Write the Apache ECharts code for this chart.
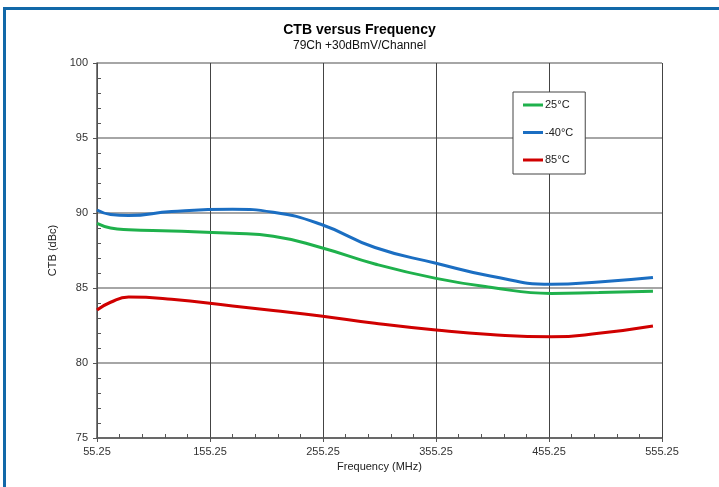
<!DOCTYPE html>
<html>
<head>
<meta charset="utf-8">
<script src="https://cdn.jsdelivr.net/npm/echarts@6/dist/echarts.min.js"></script>
<style>
  html, body { margin: 0; padding: 0; background: #fff; }
  #main { width: 719px; height: 487px; }
</style>
</head>
<body>
<div id="main"></div>
<script>
// frequencies (MHz) where the curves were read
const freqs = [55.25, 67.25, 83.25, 121.25, 175.25, 211.25, 253.25, 301.25, 355.25, 403.25, 457.25, 499.25, 547.25]
// CTB values (dBc)
const ctb25 = [89.31, 89.0, 88.88, 88.8, 88.65, 88.45, 87.7, 86.6, 85.64, 85.05, 84.64, 84.7, 84.78]
const ctbMinus40 = [90.2, 89.9, 89.83, 90.1, 90.25, 90.05, 89.25, 87.7, 86.65, 85.8, 85.25, 85.4, 85.7]
const ctb85 = [83.53, 84.05, 84.4, 84.25, 83.8, 83.5, 83.13, 82.65, 82.2, 81.9, 81.75, 81.98, 82.47]
const seriesNames = ['25°C', '-40°C', '85°C']
const colors = ['#1fb14c', '#1b6ec2', '#d00000']

const pairs = arr => freqs.map((f, i) => [f, arr[i]])

const chart = echarts.init(document.getElementById('main'))

const tickStyle = { color: '#555' }

const option = {
  animation: false,
  backgroundColor: '#fff',
  textStyle: { fontFamily: 'Liberation Sans, Arial, sans-serif' },
  title: {
    text: 'CTB versus Frequency',
    subtext: '79Ch +30dBmV/Channel',
    left: 'center',
    top: 18,
    itemGap: 3,
    textStyle: { fontSize: 14, fontWeight: 'bold', color: '#000' },
    subtextStyle: { fontSize: 12, color: '#111' }
  },
  legend: {
    orient: 'vertical',
    left: 513,
    top: 92,
    padding: [6, 12, 7, 10],
    itemGap: 13.5,
    itemWidth: 20,
    itemHeight: 3,
    icon: 'rect',
    backgroundColor: '#fff',
    borderColor: '#444',
    borderWidth: 1,
    textStyle: { fontSize: 11, color: '#222', lineHeight: 14, padding: [0, 0, 0, -3] },
    data: seriesNames
  },
  grid: { left: 97, right: 57, top: 63, bottom: 49 },
  xAxis: [
    {
      type: 'value', min: 55.25, max: 555.25, interval: 100, position: 'bottom',
      name: 'Frequency (MHz)',
      nameLocation: 'middle',
      nameGap: 23,
      nameTextStyle: { fontSize: 11, color: '#222' },
      axisLine: { lineStyle: { color: '#555', width: 1.5 } },
      axisTick: { show: true, inside: false, length: 4, lineStyle: tickStyle },
      axisLabel: { fontSize: 11, color: '#333', margin: 8, formatter: v => v.toFixed(2) },
      splitLine: { show: true, lineStyle: { color: '#444', width: 1 } }
    },
    {
      // minor ticks pointing into the plot
      type: 'value', min: 55.25, max: 555.25, interval: 100, position: 'bottom', offset: -4,
      axisLine: { show: false },
      axisTick: { show: false },
      minorTick: { show: true, splitNumber: 5, length: 4, lineStyle: tickStyle },
      axisLabel: { show: false },
      splitLine: { show: false }
    }
  ],
  yAxis: [
    {
      type: 'value', min: 75, max: 100, interval: 5, position: 'left',
      name: 'CTB (dBc)',
      nameLocation: 'middle',
      nameGap: 36,
      nameTextStyle: { fontSize: 11, color: '#222' },
      axisLine: { show: true, lineStyle: { color: '#555', width: 1.5 } },
      axisTick: { show: true, inside: false, length: 4, lineStyle: tickStyle },
      axisLabel: { fontSize: 11, color: '#333', margin: 9 },
      splitLine: { show: true, lineStyle: { color: '#888', width: 1.5 } }
    },
    {
      type: 'value', min: 75, max: 100, interval: 5, position: 'left', offset: -4,
      axisLine: { show: false },
      axisTick: { show: false },
      minorTick: { show: true, splitNumber: 5, length: 4, lineStyle: tickStyle },
      axisLabel: { show: false },
      splitLine: { show: false }
    }
  ],
  graphic: [
    // blue frame round the picture
    { type: 'rect', shape: { x: 3, y: 7, width: 716, height: 3 }, style: { fill: '#1268a8' }, z: 100 },
    { type: 'rect', shape: { x: 3, y: 7, width: 3, height: 480 }, style: { fill: '#1268a8' }, z: 100 }
  ],
  series: [
    { name: seriesNames[0], type: 'line', smooth: 0.5, symbol: 'none', data: pairs(ctb25),
      lineStyle: { width: 3, color: colors[0] }, itemStyle: { color: colors[0] } },
    { name: seriesNames[1], type: 'line', smooth: 0.5, symbol: 'none', data: pairs(ctbMinus40),
      lineStyle: { width: 3, color: colors[1] }, itemStyle: { color: colors[1] } },
    { name: seriesNames[2], type: 'line', smooth: 0.5, symbol: 'none', data: pairs(ctb85),
      lineStyle: { width: 3, color: colors[2] }, itemStyle: { color: colors[2] } }
  ]
}

chart.setOption(option)
</script>
</body>
</html>
